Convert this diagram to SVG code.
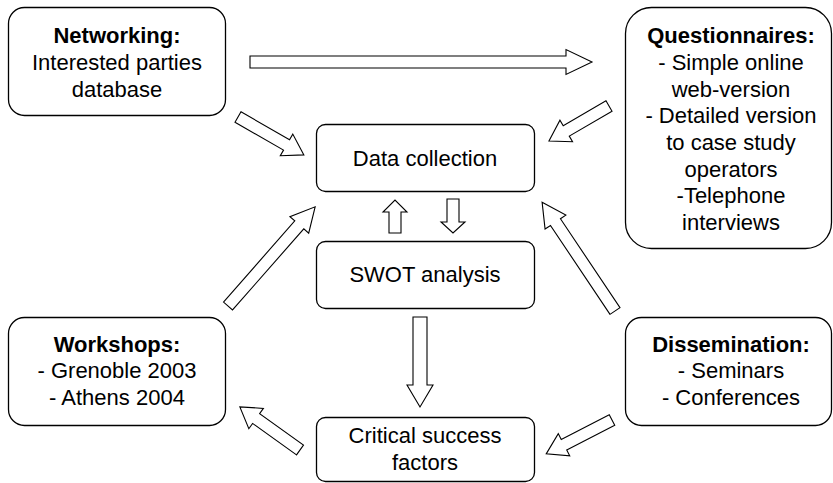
<svg xmlns="http://www.w3.org/2000/svg" width="833" height="483" viewBox="0 0 833 483">
<style>
.box{fill:#fff;stroke:#000;stroke-width:1.3}
.arr{fill:#fff;stroke:#000;stroke-width:1.1;stroke-linejoin:miter}
text{font-family:"Liberation Sans",Arial,sans-serif;font-size:22px;fill:#000;text-anchor:middle}
.b{font-weight:bold}
</style>
<rect width="833" height="483" fill="#fff"/>
<g id="connectors">
<path class="arr" transform="translate(250,62)" d="M0,-6 L316,-6 L316,-12.5 L342,0 L316,12.5 L316,6 L0,6 Z"/>
<path class="arr" transform="translate(238,117) rotate(29.93)" d="M0,-6 L56,-6 L56,-12.5 L76,0 L56,12.5 L56,6 L0,6 Z"/>
<path class="arr" transform="translate(609,106) rotate(149.74)" d="M0,-6 L49.5,-6 L49.5,-12.5 L69.5,0 L49.5,12.5 L49.5,6 L0,6 Z"/>
<path class="arr" transform="translate(228,306) rotate(-48.69)" d="M0,-6 L108,-6 L108,-12.5 L132,0 L108,12.5 L108,6 L0,6 Z"/>
<path class="arr" transform="translate(615,311) rotate(-123.81)" d="M0,-6 L107,-6 L107,-12.5 L131,0 L107,12.5 L107,6 L0,6 Z"/>
<path class="arr" transform="translate(395,233) rotate(-90)" d="M0,-6 L21,-6 L21,-12 L33,0 L21,12 L21,6 L0,6 Z"/>
<path class="arr" transform="translate(453,199) rotate(90)" d="M0,-6 L23,-6 L23,-12 L34,0 L23,12 L23,6 L0,6 Z"/>
<path class="arr" transform="translate(420,317) rotate(90)" d="M0,-7 L68,-7 L68,-13 L90,0 L68,13 L68,7 L0,7 Z"/>
<path class="arr" transform="translate(300,450) rotate(-144.37)" d="M0,-6 L54,-6 L54,-12.5 L74,0 L54,12.5 L54,6 L0,6 Z"/>
<path class="arr" transform="translate(612,420) rotate(152.75)" d="M0,-6 L54,-6 L54,-12.5 L74,0 L54,12.5 L54,6 L0,6 Z"/>
</g>
<g id="networking">
<rect class="box" x="8.5" y="7.5" width="217" height="108" rx="16"/>
<text x="117" y="43" class="b">Networking:</text>
<text x="117" y="70">Interested parties</text>
<text x="117" y="97">database</text>
</g>
<g id="questionnaires">
<rect class="box" x="625.5" y="7.5" width="206" height="241" rx="26"/>
<text x="731" y="43" class="b">Questionnaires:</text>
<text x="731" y="70">- Simple online</text>
<text x="731" y="97">web-version</text>
<text x="731" y="123">- Detailed version</text>
<text x="731" y="150">to case study</text>
<text x="731" y="177">operators</text>
<text x="731" y="203">-Telephone</text>
<text x="731" y="230">interviews</text>
</g>
<g id="data-collection">
<rect class="box" x="316.5" y="124.5" width="218" height="67" rx="9"/>
<text x="425" y="166">Data collection</text>
</g>
<g id="swot">
<rect class="box" x="316.5" y="241.5" width="218" height="67" rx="9"/>
<text x="425" y="282">SWOT analysis</text>
</g>
<g id="critical">
<rect class="box" x="316.5" y="417.5" width="218" height="64" rx="9"/>
<text x="425" y="443">Critical success</text>
<text x="425" y="470">factors</text>
</g>
<g id="workshops">
<rect class="box" x="8.5" y="317.5" width="217" height="108" rx="16"/>
<text x="117" y="352" class="b">Workshops:</text>
<text x="117" y="378">- Grenoble 2003</text>
<text x="117" y="405">- Athens 2004</text>
</g>
<g id="dissemination">
<rect class="box" x="625.5" y="317.5" width="206" height="108" rx="16"/>
<text x="731" y="352" class="b">Dissemination:</text>
<text x="731" y="378">- Seminars</text>
<text x="731" y="405">- Conferences</text>
</g>
</svg>
